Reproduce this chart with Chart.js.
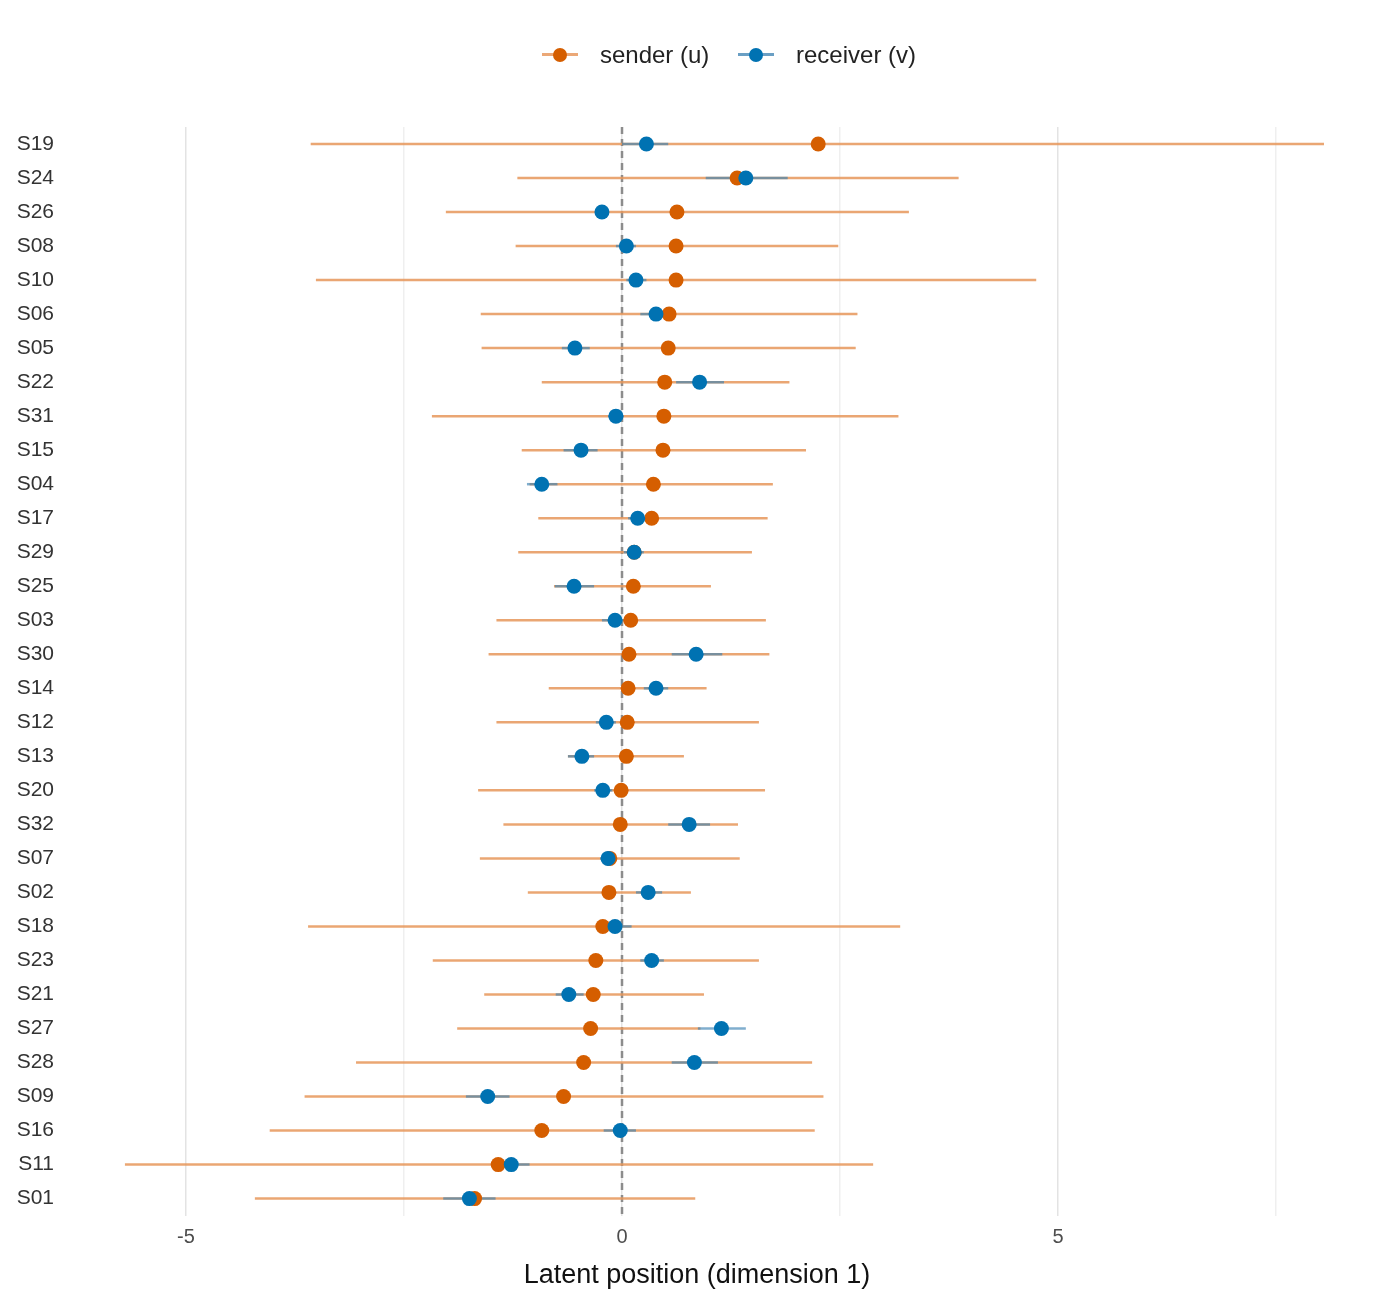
<!DOCTYPE html>
<html><head><meta charset="utf-8">
<script src="https://cdn.jsdelivr.net/npm/chart.js@4.4.1/dist/chart.umd.min.js"></script>
<style>
body{margin:0;background:#fff;font-family:"Liberation Sans",Arial,sans-serif}
#wrap{position:relative;width:1400px;height:1300px}
#legend{position:absolute;top:40px;left:28px;width:1400px;text-align:center;font-size:24px;color:#222}
.it{display:inline-flex;align-items:center;margin:0 10px}
.sym{position:relative;width:40px;height:30px;margin-right:20px}
.sym .ln{position:absolute;left:2px;right:2px;top:13px;height:3px}
.sym .dt{position:absolute;left:13px;top:8px;width:14px;height:14px;border-radius:50%}
</style></head><body>
<div id="wrap">
<div id="legend">
<span class="it"><span class="sym"><span class="ln" style="background:#EBA877"></span><span class="dt" style="background:#D55E00"></span></span>sender (u)</span>
<span class="it"><span class="sym"><span class="ln" style="background:#6A9FC4"></span><span class="dt" style="background:#0072B2"></span></span>receiver (v)</span>
</div>
<canvas id="c" width="1400" height="1300"></canvas>
</div>
<script>
const labels=["S19","S24","S26","S08","S10","S06","S05","S22","S31","S15","S04","S17","S29","S25","S03","S30","S14","S12","S13","S20","S32","S07","S02","S18","S23","S21","S27","S28","S09","S16","S11","S01"];
const senderMean=[2.25,1.32,0.63,0.62,0.62,0.54,0.53,0.49,0.48,0.47,0.36,0.34,0.14,0.13,0.10,0.08,0.07,0.06,0.05,-0.01,-0.02,-0.14,-0.15,-0.22,-0.30,-0.33,-0.36,-0.44,-0.67,-0.92,-1.42,-1.69];
const senderLo=[-3.57,-1.20,-2.02,-1.22,-3.51,-1.62,-1.61,-0.92,-2.18,-1.15,-1.06,-0.96,-1.19,-0.78,-1.44,-1.53,-0.84,-1.44,-0.62,-1.65,-1.36,-1.63,-1.08,-3.60,-2.17,-1.58,-1.89,-3.05,-3.64,-4.04,-5.70,-4.21];
const senderHi=[8.05,3.86,3.29,2.48,4.75,2.70,2.68,1.92,3.17,2.11,1.73,1.67,1.49,1.02,1.65,1.69,0.97,1.57,0.71,1.64,1.33,1.35,0.79,3.19,1.57,0.94,0.90,2.18,2.31,2.21,2.88,0.84];
const recvMean=[0.28,1.42,-0.23,0.05,0.16,0.39,-0.54,0.89,-0.07,-0.47,-0.92,0.18,0.14,-0.55,-0.08,0.85,0.39,-0.18,-0.46,-0.22,0.77,-0.16,0.30,-0.08,0.34,-0.61,1.14,0.83,-1.54,-0.02,-1.27,-1.75];
const recvLo=[0.00,0.96,-0.30,-0.07,0.05,0.21,-0.69,0.62,-0.16,-0.67,-1.09,0.07,0.02,-0.77,-0.23,0.57,0.25,-0.30,-0.62,-0.32,0.53,-0.25,0.16,-0.21,0.21,-0.76,0.87,0.57,-1.79,-0.21,-1.49,-2.05];
const recvHi=[0.53,1.90,-0.16,0.16,0.28,0.53,-0.37,1.17,0.02,-0.28,-0.74,0.30,0.25,-0.32,0.05,1.15,0.53,-0.07,-0.32,-0.11,1.01,-0.07,0.46,0.11,0.48,-0.44,1.42,1.10,-1.29,0.16,-1.06,-1.45];
const xTicks=[-5,-2.5,0,2.5,5,7.5];

const ciPlugin={id:'ci',beforeDatasetsDraw(ch){
  const {ctx,scales:{x,y},chartArea:a}=ch;
  ctx.save();
  ctx.setLineDash([7,5]);ctx.strokeStyle='#8c8c8c';ctx.lineWidth=2.5;
  ctx.beginPath();ctx.moveTo(x.getPixelForValue(0),a.top);ctx.lineTo(x.getPixelForValue(0),a.bottom);ctx.stroke();
  ctx.setLineDash([]);ctx.lineWidth=2.5;
  labels.forEach((l,i)=>{const py=y.getPixelForValue(i);
    ctx.strokeStyle='rgba(230,150,90,0.85)';
    ctx.beginPath();ctx.moveTo(x.getPixelForValue(senderLo[i]),py);ctx.lineTo(x.getPixelForValue(senderHi[i]),py);ctx.stroke();
  });
  labels.forEach((l,i)=>{const py=y.getPixelForValue(i);
    ctx.strokeStyle='rgba(60,130,180,0.65)';
    ctx.beginPath();ctx.moveTo(x.getPixelForValue(recvLo[i]),py);ctx.lineTo(x.getPixelForValue(recvHi[i]),py);ctx.stroke();
  });
  ctx.restore();
}};

new Chart(document.getElementById('c'),{
  type:'line',
  data:{labels,datasets:[
    {label:'sender (u)',data:senderMean,indexAxis:'y',showLine:false,pointRadius:7.5,pointHoverRadius:7.5,backgroundColor:'#D55E00',borderColor:'#D55E00',borderWidth:0,order:2},
    {label:'receiver (v)',data:recvMean,indexAxis:'y',showLine:false,pointRadius:7.5,pointHoverRadius:7.5,backgroundColor:'#0072B2',borderColor:'#0072B2',borderWidth:0,order:1}
  ]},
  options:{responsive:false,animation:false,indexAxis:'y',
    layout:{padding:{top:127,right:76,bottom:4,left:8}},
    plugins:{legend:{display:false},tooltip:{enabled:false}},
    scales:{
      x:{type:'linear',min:-6.33,max:8.05,
        afterBuildTicks(s){s.ticks=xTicks.map(v=>({value:v}));},
        grid:{color:c=>(c.tick&&c.tick.value%5===0)?'#e3e3e3':'#efefef',lineWidth:1.5,drawTicks:false},
        border:{display:false},
        ticks:{padding:10,color:'#4d4d4d',font:{size:20,family:'Liberation Sans'},callback:v=>(v%5===0)?String(v):''},
        title:{display:true,text:'Latent position (dimension 1)',color:'#111',font:{size:27,family:'Liberation Sans'},padding:{top:0}}},
      y:{type:'category',offset:true,grid:{display:false},border:{display:false},
        afterFit(s){s.width=62;},
        ticks:{color:'#333',font:{size:21,family:'Liberation Sans'},padding:8}}
    }},
  plugins:[ciPlugin]
});
</script></body></html>
